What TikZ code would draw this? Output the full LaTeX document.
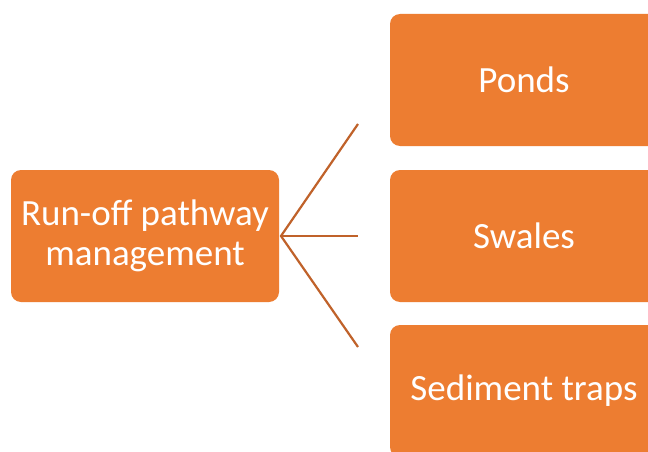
\documentclass[tikz,border=0pt]{standalone}
\usepackage{fontspec}
\setmainfont{Carlito}
\definecolor{boxorange}{HTML}{ED7D31}
\definecolor{lineorange}{HTML}{C0622A}
\begin{document}
\begin{tikzpicture}[x=1pt,y=-1pt,
  orangebox/.style={fill=boxorange, draw=none, rounded corners=10pt,
    minimum width=268pt, minimum height=132pt, inner sep=0pt,
    text=white, align=center, font=\fontsize{37}{40}\selectfont},
  link/.style={draw=lineorange, line width=2.2pt}]
\useasboundingbox (0,0) rectangle (648,452);
\clip (0,0) rectangle (648,452);
\fill[white] (0,0) rectangle (648,452);
\node[orangebox] (root) at (145,236) {Run-off pathway\\management};
\node[orangebox] (ponds) at (524,80) {Ponds};
\node[orangebox] (swales) at (524,236) {Swales};
\node[orangebox] (sediment) at (524,391) {Sediment traps};
\coordinate (hub) at (281,236);
\coordinate (e1) at (358,124);
\coordinate (e2) at (358,236);
\coordinate (e3) at (358,347);
\draw[link] (e1) -- (hub) -- (e3);
\draw[link] (hub) -- (e2);
\end{tikzpicture}
\end{document}
